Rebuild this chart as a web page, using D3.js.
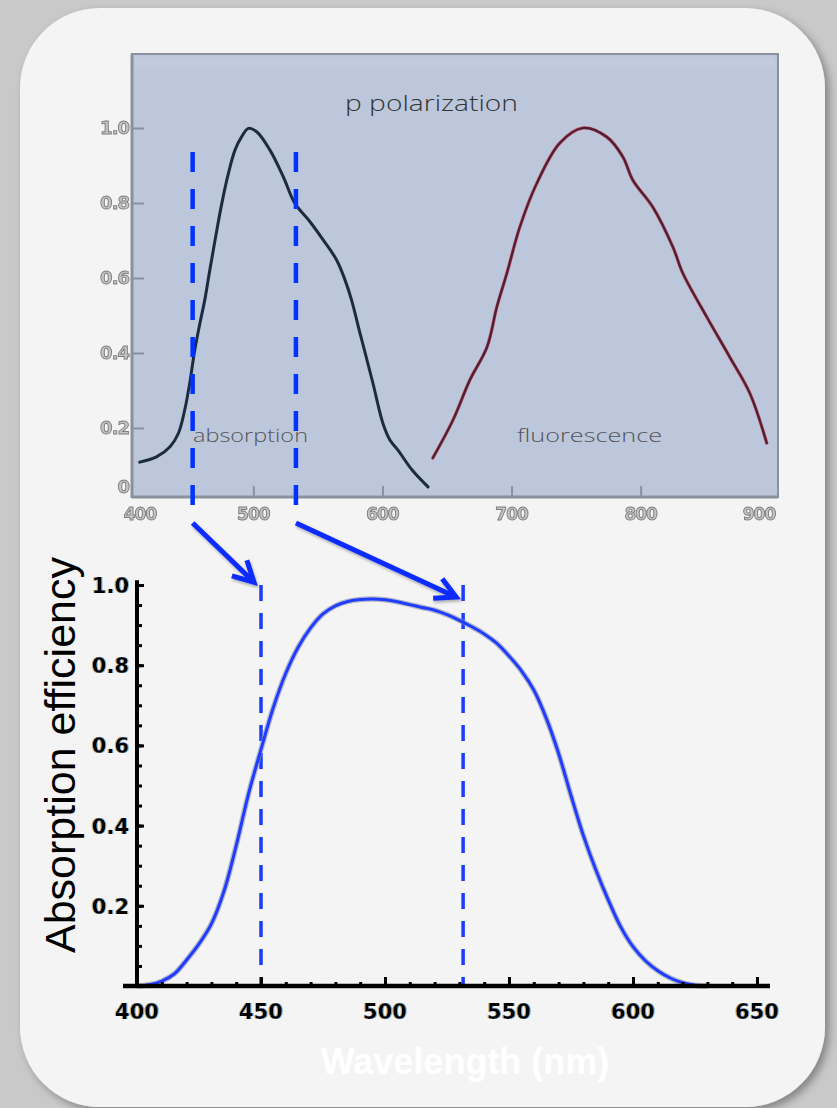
<!DOCTYPE html>
<html><head><meta charset="utf-8">
<script src="https://cdn.jsdelivr.net/npm/d3@7"></script>
<style>html,body{margin:0;padding:0;background:#c9c9c9;}svg{display:block;}</style>
</head><body>
<script>
// ---------- DATA ----------
// top panel (p polarization spectra)
const topXTicks = [400, 500, 600, 700, 800, 900];
const topYTicks = [0, 0.2, 0.4, 0.6, 0.8, 1.0];
const topYTickLabels = ["0", "0.2", "0.4", "0.6", "0.8", "1.0"];
const absWl  = [412, 425, 435.5, 442, 447, 451, 454.5, 458.7, 462.6, 466, 470.3, 475.6, 480.7, 485.8, 491, 496.2, 502.6, 512.9, 523.2, 532.2, 543.9, 554.2, 564.5, 571, 576.1, 582.6, 586.4, 592.6, 600.4, 605.8, 612, 623, 635.3];
const absVal = [0.109, 0.123, 0.150, 0.186, 0.25, 0.325, 0.405, 0.48, 0.545, 0.615, 0.70, 0.799, 0.879, 0.941, 0.977, 0.999, 0.990, 0.941, 0.870, 0.799, 0.750, 0.701, 0.648, 0.595, 0.541, 0.453, 0.403, 0.320, 0.212, 0.168, 0.141, 0.088, 0.043];
const fluWl  = [639, 654.6, 667.7, 681, 688.6, 696.4, 706.4, 719.6, 737.4, 755.2, 773.8, 786.2, 793.9, 809.4, 824.9, 832.6, 851.2, 869, 884.5, 897.6];
const fluVal = [0.120, 0.221, 0.328, 0.416, 0.523, 0.613, 0.736, 0.853, 0.960, 1.000, 0.976, 0.923, 0.861, 0.789, 0.683, 0.613, 0.496, 0.389, 0.293, 0.160];
const topMarks = [453, 533];          // dashed marker wavelengths, top panel
// bottom panel (absorption efficiency)
const botXTicks = [400, 450, 500, 550, 600, 650];
const botYTicks = [0.2, 0.4, 0.6, 0.8, 1.0];
const botYTickLabels = ["0.2", "0.4", "0.6", "0.8", "1.0"];
const effWl  = [400,405,410,415,420,425,430,435,440,445,450,455,460,465,470,475,480,485,490,495,500,505,510,515,520,525,530,535,540,545,550,555,560,565,570,575,580,585,590,595,600,605,610,615,620,625,630];
const effVal = [0,0.003,0.012,0.03,0.065,0.105,0.155,0.235,0.35,0.48,0.59,0.695,0.78,0.845,0.893,0.928,0.948,0.959,0.964,0.965,0.963,0.958,0.951,0.944,0.937,0.926,0.912,0.896,0.878,0.855,0.823,0.786,0.738,0.668,0.58,0.475,0.375,0.29,0.215,0.148,0.098,0.063,0.038,0.02,0.008,0.002,0];
const botMarks = [450, 531.5];        // dashed marker wavelengths, bottom panel
const arrowEndV = [1.007, 0.97];      // arrow tip heights (efficiency units)

// ---------- SETUP ----------
const W = 837, H = 1108;
const svg = d3.select("body").append("svg").attr("width", W).attr("height", H);
const defs = svg.append("defs");
const sh = defs.append("filter").attr("id","shadow").attr("x","-10%").attr("y","-10%").attr("width","120%").attr("height","120%");
sh.append("feDropShadow").attr("dx",4).attr("dy",4).attr("stdDeviation",4).attr("flood-color","#000").attr("flood-opacity",0.35);
const bl = defs.append("filter").attr("id","soft");
bl.append("feGaussianBlur").attr("stdDeviation",0.5);
const ash = defs.append("filter").attr("id","ashadow").attr("x","-20%").attr("y","-20%").attr("width","140%").attr("height","140%");
ash.append("feDropShadow").attr("dx",1).attr("dy",2).attr("stdDeviation",1.5).attr("flood-color","#000").attr("flood-opacity",0.3);
// chromatic halo for bottom tick labels
const ch = defs.append("filter").attr("id","chroma").attr("x","-20%").attr("y","-30%").attr("width","140%").attr("height","160%");
ch.append("feOffset").attr("in","SourceAlpha").attr("dx",-1.4).attr("dy",0).attr("result","o1");
ch.append("feFlood").attr("flood-color","#d8a040").attr("flood-opacity",0.85).attr("result","f1");
ch.append("feComposite").attr("in","f1").attr("in2","o1").attr("operator","in").attr("result","c1");
ch.append("feOffset").attr("in","SourceAlpha").attr("dx",1.4).attr("dy",0).attr("result","o2");
ch.append("feFlood").attr("flood-color","#5aa8f0").attr("flood-opacity",0.85).attr("result","f2");
ch.append("feComposite").attr("in","f2").attr("in2","o2").attr("operator","in").attr("result","c2");
const mg = ch.append("feMerge");
mg.append("feMergeNode").attr("in","c1");
mg.append("feMergeNode").attr("in","c2");
mg.append("feMergeNode").attr("in","SourceGraphic");

svg.append("rect").attr("width",W).attr("height",H).attr("fill","#c9c9c9");
svg.append("rect").attr("x",20).attr("y",8).attr("width",805).attr("height",1099)
  .attr("rx",80).attr("ry",80).attr("fill","#f4f4f4").attr("filter","url(#shadow)");

// ---------- TOP PANEL ----------
const tx = d3.scaleLinear().domain([400, 900]).range([124.2, 769.8]);
const ty = d3.scaleLinear().domain([0, 1]).range([503, 128]);
const panel = {x0:132, x1:778, y0:54, y1:497};
const topG = svg.append("g");
topG.append("rect").attr("x",panel.x0).attr("y",panel.y0).attr("width",panel.x1-panel.x0).attr("height",panel.y1-panel.y0)
  .attr("fill","#bcc7dc").attr("stroke","#8a909c").attr("stroke-width",2);
topG.append("rect").attr("x",panel.x0+3).attr("y",panel.y0+3).attr("width",panel.x1-panel.x0-6).attr("height",12)
  .attr("fill","#c1cbde");
topG.append("line").attr("x1",panel.x0).attr("x2",panel.x0).attr("y1",panel.y0).attr("y2",panel.y1+1)
  .attr("stroke","#8a909c").attr("stroke-width",3);
topG.append("line").attr("x1",panel.x0).attr("x2",panel.x1).attr("y1",panel.y1).attr("y2",panel.y1)
  .attr("stroke","#8a909c").attr("stroke-width",3);

// y ticks (inward)
const tyAxis = topG.append("g").attr("transform",`translate(${panel.x0},0)`)
  .call(d3.axisLeft(ty).tickValues(topYTicks.slice(1)).tickSize(-12).tickFormat(""));
tyAxis.select(".domain").remove();
tyAxis.selectAll(".tick line").attr("stroke","#8a909c").attr("stroke-width",2);
// x ticks (inward)
const txAxis = topG.append("g").attr("transform",`translate(0,${panel.y1})`)
  .call(d3.axisBottom(tx).tickValues(topXTicks.slice(1,5)).tickSize(-11).tickFormat(""));
txAxis.select(".domain").remove();
txAxis.selectAll(".tick line").attr("stroke","#8a909c").attr("stroke-width",2);

const grayLab = {fill:"#c4c4c4", stroke:"#7d7d7d", sw:0.9};
topYTicks.forEach((v,i)=>{
  const y = Math.min(ty(v), ty(0) - 16);
  topG.append("text").attr("x",129).attr("y",y).attr("dy","0.36em").attr("text-anchor","end")
    .attr("font-family","DejaVu Sans").attr("font-size",18).attr("font-weight","bold")
    .attr("fill",grayLab.fill).attr("stroke",grayLab.stroke).attr("stroke-width",grayLab.sw)
    .attr("filter","url(#soft)").attr("letter-spacing",-1).text(topYTickLabels[i]);
});
topXTicks.forEach(v=>{
  const x = Math.max(140, Math.min(759, tx(v)));
  topG.append("text").attr("x",x).attr("y",514).attr("dy","0.36em").attr("text-anchor","middle")
    .attr("font-family","DejaVu Sans").attr("font-size",17).attr("font-weight","bold")
    .attr("fill",grayLab.fill).attr("stroke",grayLab.stroke).attr("stroke-width",grayLab.sw)
    .attr("filter","url(#soft)").attr("letter-spacing",-1).text(v);
});

const topLine = d3.line().x(d=>tx(d[0])).y(d=>ty(d[1])).curve(d3.curveCatmullRom.alpha(0.5));
const absPts = absWl.map((w,i)=>[w, absVal[i]]);
const fluPts = fluWl.map((w,i)=>[w, fluVal[i]]);
topG.append("path").attr("d",topLine(absPts)).attr("fill","none").attr("stroke","#1b2c3e").attr("stroke-width",3)
  .attr("stroke-linecap","round");
topG.append("path").attr("d",topLine(fluPts)).attr("fill","none").attr("stroke","#c8384c").attr("stroke-width",3.4)
  .attr("stroke-linecap","round").attr("opacity",0.8);
topG.append("path").attr("d",topLine(fluPts)).attr("fill","none").attr("stroke","#4c2034").attr("stroke-width",2.2)
  .attr("stroke-linecap","round");

topG.append("text").attr("x",345).attr("y",111).attr("font-family","Open Sans").attr("font-weight",300)
  .attr("font-size",22).attr("fill","#333").attr("textLength",173).attr("lengthAdjust","spacingAndGlyphs").text("p polarization");
topG.append("text").attr("x",193).attr("y",442).attr("font-family","Open Sans").attr("font-weight",300)
  .attr("font-size",19).attr("fill","#555").attr("textLength",115).attr("lengthAdjust","spacingAndGlyphs").text("absorption");
topG.append("text").attr("x",517).attr("y",442).attr("font-family","Open Sans").attr("font-weight",300)
  .attr("font-size",19).attr("fill","#555").attr("textLength",145).attr("lengthAdjust","spacingAndGlyphs").text("fluorescence");

// ---------- BOTTOM PANEL ----------
const bx = d3.scaleLinear().domain([400, 650]).range([137, 757]);
const by = d3.scaleLinear().domain([0, 1]).range([986, 585]);
const bot = svg.append("g");

// dashed markers top panel
topMarks.forEach(m=>{
  svg.append("line").attr("x1",tx(m)).attr("x2",tx(m)).attr("y1",152).attr("y2",508)
    .attr("stroke","#0033ff").attr("stroke-width",4.5).attr("stroke-dasharray","20 17");
});
// dashed markers bottom panel
botMarks.forEach(m=>{
  bot.append("line").attr("x1",bx(m)).attr("x2",bx(m)).attr("y1",by(1)).attr("y2",by(0))
    .attr("stroke","#1a3cff").attr("stroke-width",3.5).attr("stroke-dasharray","16 12");
});

// curve
const botLine = d3.line().x(d=>bx(d[0])).y(d=>by(d[1])).curve(d3.curveCatmullRom.alpha(0.5));
const effPts = effWl.map((w,i)=>[w, effVal[i]]);
bot.append("path").attr("d",botLine(effPts)).attr("fill","none").attr("stroke","#8088a8").attr("stroke-width",5.5).attr("opacity",0.55);
bot.append("path").attr("d",botLine(effPts)).attr("fill","none").attr("stroke","#1f3cff").attr("stroke-width",3);

// axes
const xMinor = bot.append("g").attr("transform",`translate(0,${by(0)})`)
  .call(d3.axisBottom(bx).tickValues(d3.range(400, 651, 10)).tickSize(-4).tickFormat(""));
const xMajor = bot.append("g").attr("transform",`translate(0,${by(0)})`)
  .call(d3.axisBottom(bx).tickValues(botXTicks).tickSize(-9).tickFormat(""));
const yMinor = bot.append("g").attr("transform",`translate(${bx(400)},0)`)
  .call(d3.axisLeft(by).tickValues(d3.range(0.05, 1.001, 0.05)).tickSize(-5).tickFormat(""));
const yMajor = bot.append("g").attr("transform",`translate(${bx(400)},0)`)
  .call(d3.axisLeft(by).tickValues(botYTicks).tickSize(-7).tickFormat(""));
[xMinor,xMajor,yMinor,yMajor].forEach(g=>{
  g.select(".domain").remove();
  g.selectAll(".tick line").attr("stroke","#000").attr("stroke-width",3);
});
bot.append("line").attr("x1",bx(400)).attr("x2",bx(400)).attr("y1",by(1.012)).attr("y2",by(0))
  .attr("stroke","#000").attr("stroke-width",4);
bot.append("line").attr("x1",bx(400)-14).attr("x2",bx(650)+13).attr("y1",by(0)).attr("y2",by(0))
  .attr("stroke","#000").attr("stroke-width",4.5);

function haloText(g, x, y, txt, anchor){
  g.append("text").attr("x",x).attr("y",y).attr("text-anchor",anchor).attr("font-family","DejaVu Sans")
    .attr("font-weight","bold").attr("font-size",21).attr("fill","#000")
    .attr("filter","url(#chroma)").text(txt);
}
botXTicks.forEach(v=> haloText(bot, bx(v), 1019, String(v), "middle"));
botYTicks.forEach((v,i)=> haloText(bot, 129, by(v)+8, botYTickLabels[i], "end"));

// axis titles
bot.append("text").attr("transform",`translate(75,755) rotate(-90)`)
  .attr("text-anchor","middle").attr("font-family","Liberation Sans").attr("font-size",43)
  .attr("fill","#000").text("Absorption efficiency");
bot.append("text").attr("x",465).attr("y",1074).attr("text-anchor","middle")
  .attr("font-family","Liberation Sans").attr("font-weight","bold").attr("font-size",36)
  .attr("fill","#ffffff").text("Wavelength (nm)");

// ---------- ARROWS ----------
const arrows = svg.append("g").attr("filter","url(#ashadow)");
topMarks.forEach((m,i)=>{
  const x1 = tx(m), y1 = 523;
  const x2 = bx(botMarks[i]) - 7, y2 = by(arrowEndV[i]);
  const ang = Math.atan2(y2-y1, x2-x1);
  const L = 23, a = 28*Math.PI/180;
  const b1 = [x2 - L*Math.cos(ang - a), y2 - L*Math.sin(ang - a)];
  const b2 = [x2 - L*Math.cos(ang + a), y2 - L*Math.sin(ang + a)];
  arrows.append("line").attr("x1",x1).attr("y1",y1).attr("x2",x2-2*Math.cos(ang)).attr("y2",y2-2*Math.sin(ang))
    .attr("stroke","#0a2cff").attr("stroke-width",5);
  arrows.append("path").attr("d",`M${b1[0]},${b1[1]}L${x2},${y2}L${b2[0]},${b2[1]}`)
    .attr("fill","none").attr("stroke","#0a2cff").attr("stroke-width",5).attr("stroke-linejoin","miter");
});
</script>
</body></html>
